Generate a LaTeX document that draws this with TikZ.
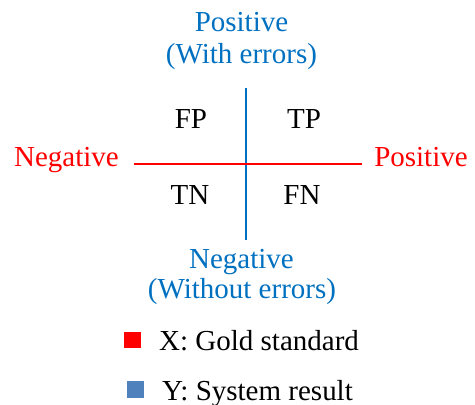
\documentclass[tikz,border=0pt]{standalone}
\usepackage{fontspec}
\setmainfont{Liberation Serif}
\definecolor{axisblue}{HTML}{0070C0}
\definecolor{axisred}{HTML}{FF0000}
\definecolor{keyblue}{HTML}{4F81BD}
\tikzset{lbl/.style={anchor=base,inner sep=0pt,font=\fontsize{29}{33}\selectfont}}
\begin{document}
\begin{tikzpicture}[x=1pt,y=-1pt]
		\useasboundingbox (0,0) rectangle (475,405);
		\coordinate (t) at (246,88);
		\coordinate (b) at (246,240);
		\coordinate (l) at (134,164);
		\coordinate (r) at (362,164);
		\draw[axisblue,line width=1.6pt] (t)--(b);
		\draw[axisred,line width=1.6pt] (l)--(r);
		\node[lbl,text=axisblue,name=ptop] at (241.5,31){Positive};
		\node[lbl,text=axisblue,name=wtop] at (241.5,63){(With errors)};
		\node[lbl,text=axisblue,name=nbot] at (241.5,268){Negative};
		\node[lbl,text=axisblue,name=wbot] at (242,298){(Without errors)};
		\node[lbl,text=axisred,name=nleft] at (66.5,166){Negative};
		\node[lbl,text=axisred,name=pright] at (421,166){Positive};
		\node[lbl,name=fp] at (191,128){FP};
		\node[lbl,name=tp] at (304,128){TP};
		\node[lbl,name=tn] at (190,204){TN};
		\node[lbl,name=fn] at (302,204){FN};
		\fill[axisred] (124,332) rectangle (141,348);
		\fill[keyblue] (127,381) rectangle (144,398);
		\node[lbl,anchor=base west,name=kx] at (159,350){X: Gold standard};
		\node[lbl,anchor=base west,name=ky] at (162,400){Y: System result};
	\end{tikzpicture}
\end{document}
